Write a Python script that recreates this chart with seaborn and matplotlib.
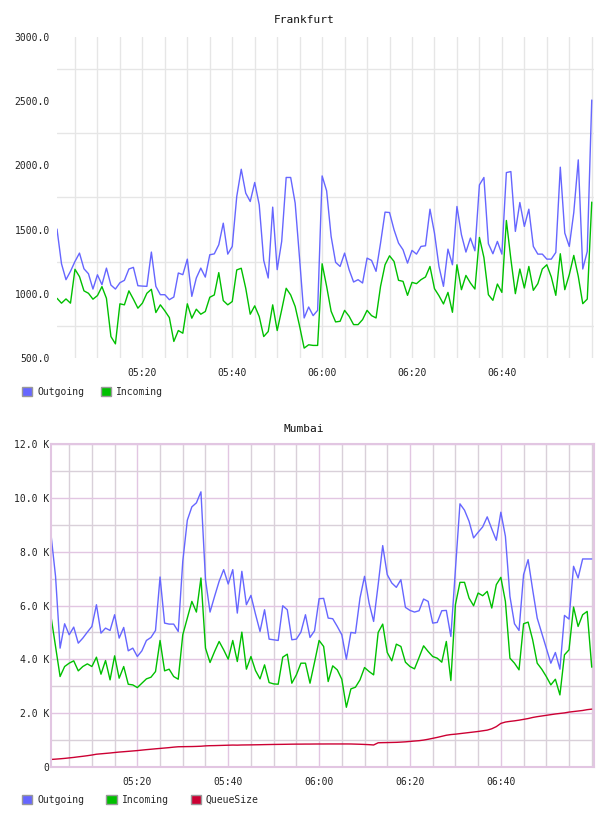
import pandas as pd
import matplotlib
matplotlib.use("Agg")
from matplotlib import pyplot as plt
import matplotlib.dates as mdates
from matplotlib.patches import Patch
from matplotlib.ticker import FixedLocator, FuncFormatter
import seaborn as sns

# one sample per minute, 05:01 .. 07:00
times = pd.date_range("2024-01-01 05:01", periods=120, freq="min")
tick_times = ["05:20", "05:40", "06:00", "06:20", "06:40"]

fra_outgoing = [
    1504, 1234, 1110, 1175, 1252, 1317, 1195, 1156, 1037, 1148,
    1071, 1200, 1068, 1037, 1086, 1105, 1193, 1206, 1063, 1060,
    1058, 1325, 1058, 993, 993, 954, 975, 1162, 1149, 1270,
    980, 1123, 1200, 1130, 1304, 1311, 1382, 1550, 1309, 1369,
    1758, 1970, 1784, 1719, 1867, 1693, 1260, 1123, 1675, 1188,
    1408, 1906, 1906, 1706, 1266, 812, 897, 830, 871, 1918,
    1802, 1447, 1245, 1213, 1317, 1188, 1092, 1110, 1084, 1278,
    1260, 1175, 1395, 1636, 1633, 1499, 1395, 1343, 1239, 1338,
    1309, 1369, 1374, 1659, 1473, 1213, 1058, 1348, 1226, 1680,
    1460, 1325, 1434, 1335, 1848, 1906, 1390, 1312, 1408, 1309,
    1944, 1952, 1486, 1711, 1525, 1659, 1369, 1309, 1309, 1270,
    1270, 1322, 1986, 1473, 1369, 1633, 2043, 1193, 1330, 2509,
]
fra_incoming = [
    965, 927, 960, 927, 1191, 1134, 1023, 1004, 958, 986,
    1056, 965, 667, 610, 922, 914, 1023, 958, 888, 927,
    1004, 1035, 854, 914, 867, 815, 629, 714, 693, 922,
    810, 880, 841, 862, 973, 991, 1165, 947, 914, 940,
    1186, 1199, 1043, 841, 906, 823, 667, 706, 914, 714,
    875, 1043, 991, 901, 746, 577, 603, 598, 598, 1234,
    1058, 864, 781, 786, 871, 825, 760, 760, 799, 871,
    830, 812, 1058, 1226, 1296, 1252, 1105, 1097, 988, 1089,
    1079, 1110, 1131, 1213, 1040, 985, 921, 1011, 856, 1226,
    1032, 1143, 1084, 1037, 1439, 1283, 993, 949, 1076, 1011,
    1571, 1270, 1001, 1193, 1045, 1213, 1027, 1079, 1193, 1226,
    1131, 988, 1312, 1032, 1149, 1299, 1136, 923, 959, 1714,
]

mum_outgoing = [
    8635, 7084, 4416, 5321, 4912, 5197, 4601, 4788, 5011, 5222,
    6029, 4974, 5160, 5073, 5657, 4788, 5185, 4316, 4416, 4105,
    4316, 4701, 4813, 5073, 7059, 5346, 5309, 5309, 5036, 7642,
    9169, 9665, 9814, 10223, 6960, 5756, 6339, 6898, 7332, 6798,
    7332, 5718, 7270, 6029, 6376, 5681, 5036, 5843, 4751, 4726,
    4701, 5991, 5843, 4726, 4751, 5011, 5657, 4813, 5061, 6252,
    6265, 5532, 5508, 5222, 4912, 4006, 4999, 4974, 6277, 7084,
    6091, 5408, 6773, 8225, 7146, 6836, 6674, 6960, 5930, 5818,
    5756, 5805, 6240, 6153, 5346, 5371, 5805, 5818, 4850, 7332,
    9777, 9541, 9131, 8511, 8722, 8920, 9293, 8846, 8424, 9466,
    8573, 6339, 5321, 5073, 7146, 7704, 6587, 5532, 4974, 4416,
    3857, 4254, 3634, 5632, 5495, 7456, 7022, 7729, 7729, 7729,
]
mum_incoming = [
    5594, 4478, 3361, 3733, 3857, 3944, 3572, 3733, 3832, 3733,
    4080, 3448, 3956, 3237, 4130, 3299, 3733, 3075, 3050, 2951,
    3113, 3274, 3336, 3547, 4701, 3572, 3634, 3361, 3261, 4912,
    5532, 6153, 5756, 7022, 4416, 3882, 4291, 4664, 4353, 4006,
    4701, 3919, 5011, 3634, 4105, 3584, 3274, 3795, 3137, 3088,
    3075, 4080, 4192, 3113, 3423, 3857, 3857, 3113, 3894, 4701,
    4478, 3175, 3758, 3609, 3261, 2219, 2902, 2964, 3237, 3696,
    3547, 3423, 4999, 5309, 4254, 3944, 4564, 4478, 3894, 3733,
    3646, 4068, 4502, 4291, 4105, 4043, 3894, 4664, 3212, 6029,
    6860, 6860, 6277, 5991, 6463, 6364, 6525, 5905, 6773, 7046,
    6153, 4043, 3857, 3609, 5321, 5383, 4726, 3857, 3634, 3361,
    3050, 3261, 2678, 4167, 4353, 5942, 5222, 5657, 5781, 3708,
]
mum_queue = [
    280, 292, 305, 320, 338, 356, 378, 398, 420, 445,
    475, 490, 505, 520, 538, 555, 568, 582, 596, 610,
    628, 645, 660, 676, 690, 705, 720, 738, 752, 755,
    758, 760, 765, 772, 785, 792, 795, 800, 805, 810,
    815, 812, 818, 820, 822, 825, 828, 832, 835, 838,
    840, 842, 845, 848, 850, 850, 852, 852, 854, 855,
    855, 856, 856, 856, 856, 856, 855, 850, 845, 838,
    830, 818, 900, 905, 908, 912, 916, 925, 935, 950,
    965, 978, 1000, 1030, 1065, 1100, 1140, 1180, 1205, 1220,
    1240, 1260, 1280, 1300, 1320, 1345, 1370, 1420, 1500, 1620,
    1670, 1695, 1715, 1740, 1770, 1800, 1840, 1870, 1895, 1920,
    1945, 1970, 1990, 2010, 2040, 2060, 2080, 2100, 2130, 2150,
]

colors = {"Outgoing": "#6666ff", "Incoming": "#00c000", "QueueSize": "#cc0033"}

fra = pd.DataFrame({"time": times, "Outgoing": fra_outgoing, "Incoming": fra_incoming})
fra = fra.melt(id_vars="time", var_name="series", value_name="value")
mum = pd.DataFrame({"time": times, "Outgoing": mum_outgoing,
                    "Incoming": mum_incoming, "QueueSize": mum_queue})
mum = mum.melt(id_vars="time", var_name="series", value_name="value")

sns.set_theme(style="white")
plt.rcParams["font.family"] = ["DejaVu Sans Mono", "DejaVu Sans"]

fig = plt.figure(figsize=(6.08, 8.16), dpi=100)
ax1 = fig.add_axes([57 / 608, 1 - 358 / 816, 537 / 608, 321 / 816])
ax2 = fig.add_axes([51 / 608, 1 - 767 / 816, 543 / 608, 323 / 816])

day = "2024-01-01 "
xlim = (pd.Timestamp(day + "05:01"), pd.Timestamp(day + "07:00:30"))
major_x = [mdates.date2num(pd.Timestamp(day + t)) for t in tick_times]
minor_x = [mdates.date2num(t) for t in pd.date_range(day + "05:05", day + "07:00", freq="5min")]

# --- Frankfurt ---
sns.lineplot(data=fra, x="time", y="value", hue="series", palette=colors,
             linewidth=1.0, legend=False, ax=ax1)
ax1.set_ylim(500, 3000)
ax1.yaxis.set_major_locator(FixedLocator([500, 1000, 1500, 2000, 2500, 3000]))
ax1.yaxis.set_minor_locator(FixedLocator([750, 1250, 1750, 2250, 2750]))
ax1.yaxis.set_major_formatter(FuncFormatter(lambda v, p: f"{v:.1f}"))
for s in ax1.spines.values():
    s.set_visible(False)

# --- Mumbai ---
sns.lineplot(data=mum, x="time", y="value", hue="series", palette=colors,
             linewidth=1.0, legend=False, ax=ax2)
ax2.set_ylim(0, 12000)
ax2.yaxis.set_major_locator(FixedLocator(list(range(0, 12001, 2000))))
ax2.yaxis.set_minor_locator(FixedLocator(list(range(1000, 12000, 2000))))
ax2.yaxis.set_major_formatter(FuncFormatter(lambda v, p: "0" if v == 0 else f"{v / 1000:.1f} K"))
for s in ax2.spines.values():
    s.set_color("#e2c6e2")
    s.set_linewidth(1.5)

for ax, ypad in ((ax1, 5), (ax2, 1)):
    ax.set_xlim(xlim)
    ax.set_xlabel("")
    ax.set_ylabel("")
    ax.set_axisbelow(True)
    ax.xaxis.set_major_locator(FixedLocator(major_x))
    ax.xaxis.set_minor_locator(FixedLocator(minor_x))
    ax.xaxis.set_major_formatter(mdates.DateFormatter("%H:%M"))
    ax.tick_params(axis="both", which="both", length=0, labelsize=7, colors="#222222")
    ax.tick_params(axis="x", pad=7)
    ax.tick_params(axis="y", pad=ypad)
    ax.grid(False)

ax1.yaxis.grid(True, which="minor", color="#e6e6e6", linewidth=1.0)
ax1.xaxis.grid(True, which="both", color="#e6e6e6", linewidth=1.0)
ax2.yaxis.grid(True, which="minor", color="#d9d0d9", linewidth=1.0)
ax2.xaxis.grid(True, which="minor", color="#d9d0d9", linewidth=1.0)
ax2.yaxis.grid(True, which="major", color="#e2c6e2", linewidth=1.0)
ax2.xaxis.grid(True, which="major", color="#e2c6e2", linewidth=1.0)

fig.text(0.5, 1 - 20 / 816, "Frankfurt", ha="center", va="center", fontsize=8, color="#111111")
fig.text(0.5, 1 - 429 / 816, "Mumbai", ha="center", va="center", fontsize=8, color="#111111")

def make_legend(names, y, spacing):
    handles = [Patch(facecolor=colors[n], edgecolor="#999999", linewidth=1.0) for n in names]
    fig.legend(handles, names, loc="center left", bbox_to_anchor=(22 / 608, 1 - y / 816),
               ncol=len(names), frameon=False, fontsize=7, handlelength=1.05,
               handleheight=1.05, handletextpad=0.5, columnspacing=spacing,
               borderpad=0, borderaxespad=0)

make_legend(["Outgoing", "Incoming"], 392, 1.7)
make_legend(["Outgoing", "Incoming", "QueueSize"], 800, 2.3)

fig.savefig("out.png", dpi=100)
